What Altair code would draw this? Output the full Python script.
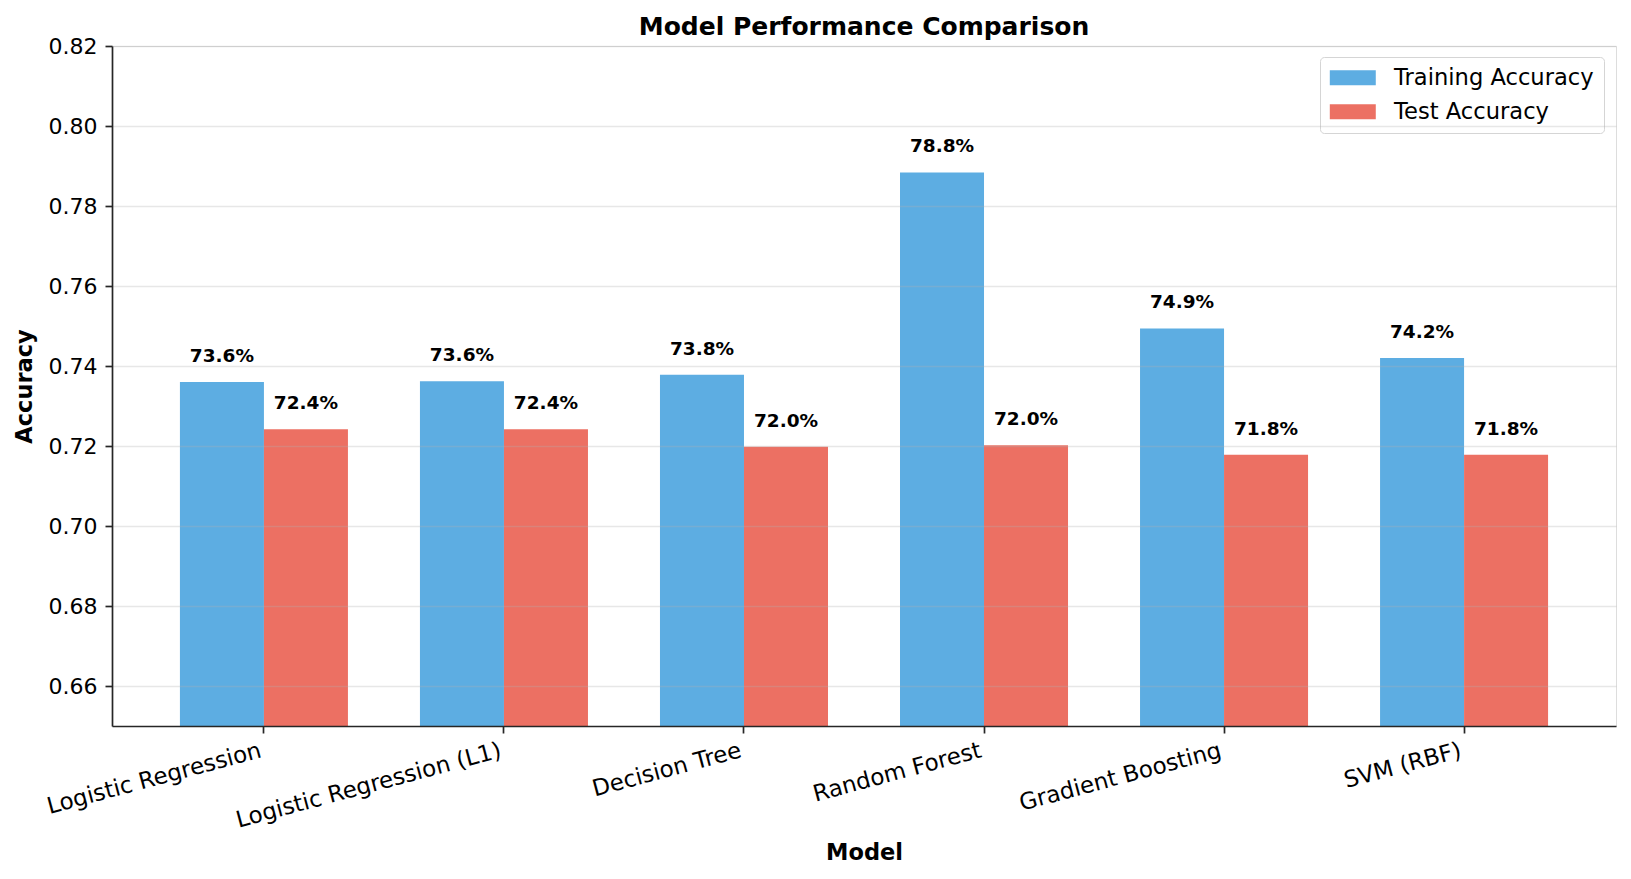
import altair as alt
import pandas as pd

# Model names and scores
models = [
    "Logistic Regression",
    "Logistic Regression (L1)",
    "Decision Tree",
    "Random Forest",
    "Gradient Boosting",
    "SVM (RBF)",
]
train_acc = [0.7360, 0.7362, 0.7378, 0.7884, 0.7494, 0.7420]
test_acc = [0.7242, 0.7242, 0.7198, 0.7202, 0.7178, 0.7178]

series = ["Training Accuracy", "Test Accuracy"]
series_colors = ["#5DADE2", "#EC7063"]
y_ticks = [0.66, 0.68, 0.70, 0.72, 0.74, 0.76, 0.78, 0.80, 0.82]
label_gap = 0.005

rows = []
for m, tr, te in zip(models, train_acc, test_acc):
    rows.append({"Model": m, "Metric": series[0], "Accuracy": tr})
    rows.append({"Model": m, "Metric": series[1], "Accuracy": te})
df = pd.DataFrame(rows)

FONT = "DejaVu Sans"
INK = "#262626"

# wide, flat legend swatch; drawn from the symbol's left edge so the
# label column sits just after it
SWATCH = "M-1,-0.68H3.18V0.68H-1Z"

x_enc = alt.X(
    "Model:N",
    sort=models,
    scale=alt.Scale(paddingInner=0.3, paddingOuter=0.283),
    axis=alt.Axis(
        title="Model",
        labelAngle=-15,
        labelAlign="right",
        labelBaseline="top",
        labelPadding=6,
        labelOffset=-6,
        labelFontSize=23,
        labelFont=FONT,
        labelColor="black",
        labelLimit=0,
        titleFont=FONT,
        titleFontSize=22.5,
        titleFontWeight="bold",
        titleColor="black",
        titlePadding=10,
        grid=False,
        domainColor=INK,
        domainWidth=1.7,
        tickColor=INK,
        tickWidth=1.7,
        tickSize=7,
        zindex=1,
    ),
)
xo_enc = alt.XOffset(
    "Metric:N",
    sort=series,
    scale=alt.Scale(domain=series, paddingInner=0, paddingOuter=0),
)
y_scale = alt.Scale(domain=[0.65, 0.82], nice=False, zero=False, clamp=True)

bars = alt.Chart(df).mark_bar().encode(
    x=x_enc,
    xOffset=xo_enc,
    y=alt.Y(
        "Accuracy:Q",
        scale=y_scale,
        axis=alt.Axis(
            title="Accuracy",
            values=y_ticks,
            format=".2f",
            labelFontSize=22,
            labelFont=FONT,
            labelColor="black",
            labelPadding=8,
            titleFont=FONT,
            titleFontSize=22.5,
            titleFontWeight="bold",
            titleColor="black",
            titlePadding=12,
            grid=True,
            gridColor="#b0b0b0",
            gridOpacity=0.3,
            gridWidth=1.7,
            domainColor=INK,
            domainWidth=1.7,
            tickColor=INK,
            tickWidth=1.7,
            tickSize=7,
            zindex=1,
        ),
    ),
    color=alt.Color(
        "Metric:N",
        sort=series,
        scale=alt.Scale(domain=series, range=series_colors),
        legend=alt.Legend(
            title=None,
            orient="none",
            legendX=1208,
            legendY=11,
            labelFont=FONT,
            labelFontSize=22.6,
            labelColor="black",
            labelLimit=0,
            labelOffset=42,
            symbolType=SWATCH,
            symbolSize=484,
            symbolStrokeWidth=0,
            rowPadding=11,
            padding=9.5,
            strokeColor="#d5d5d5",
            fillColor="white",
            cornerRadius=4,
        ),
    ),
)

labels = (
    alt.Chart(df)
    .transform_calculate(label_y=f"datum.Accuracy + {label_gap}")
    .mark_text(
        font=FONT,
        fontSize=18.5,
        fontWeight="bold",
        color="black",
        align="center",
        baseline="alphabetic",
    )
    .encode(
        x=alt.X("Model:N", sort=models),
        xOffset=alt.XOffset("Metric:N", sort=series),
        y=alt.Y("label_y:Q", scale=y_scale),
        text=alt.Text("Accuracy:Q", format=".1%"),
    )
)

chart = (
    alt.layer(bars, labels)
    .properties(
        width=1504,
        height=680,
        title=alt.Title(
            "Model Performance Comparison",
            font=FONT,
            fontSize=25,
            fontWeight="bold",
            color="black",
            anchor="middle",
            frame="group",
            offset=-5,
        ),
        autosize=alt.AutoSizeParams(type="none"),
        padding={"left": 112, "top": 46, "right": 15, "bottom": 153},
    )
    .configure_view(stroke=INK, strokeWidth=1.7)
    .configure(background="white")
)

chart.save("out.html", embed_options={"renderer": "svg", "actions": False})
